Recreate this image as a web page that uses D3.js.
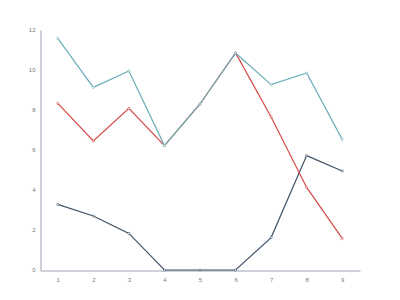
<!DOCTYPE html>
<html>
<head>
<meta charset="utf-8">
<script src="https://cdn.jsdelivr.net/npm/d3@7"></script>
<style>
  body { margin: 0; background: #fff; }
  svg { display: block; }
</style>
</head>
<body>
<svg id="chart" width="400" height="300"></svg>
<script>
const categories = [1, 2, 3, 4, 5, 6, 7, 8, 9];
const darkValues = [3.28, 2.7, 1.83, 0, 0, 0, 1.62, 5.72, 4.95];
const redValues = [8.33, 6.45, 8.08, 6.22, 8.3, 10.85, 7.65, 4.13, 1.58];
const tealValues = [11.58, 9.13, 9.95, 6.22, 8.3, 10.85, 9.27, 9.85, 6.53];
const yTicks = [0, 2, 4, 6, 8, 10, 12];

const seriesList = [
    { name: "dark", values: darkValues, colour: "#34495e", opacity: 0.95 },
    { name: "red", values: redValues, colour: "#d43d3a", opacity: 0.95 },
    { name: "teal", values: tealValues, colour: "#6aaeb9", opacity: 1 }
];

const svg = d3.select("#chart");
const margin = { top: 30, right: 40, bottom: 30, left: 40 };
const width = 400 - margin.left - margin.right;
const height = 300 - margin.top - margin.bottom;

const chartArea = svg.append("g")
    .attr("transform", `translate(${margin.left},${margin.top})`);

const xScale = d3.scalePoint().domain(categories).range([0, width]).padding(0.5);
const yScale = d3.scaleLinear().domain([0, 12]).range([height, 0]);

const axisColour = "#9ea3b3";

const yAxis = chartArea.append("g")
    .attr("transform", "translate(0.5,0)")
    .call(d3.axisLeft(yScale).tickValues(yTicks).tickSize(0).tickPadding(5));
const xAxis = chartArea.append("g")
    .attr("transform", `translate(0,${height + 0.5})`)
    .call(d3.axisBottom(xScale).tickSize(0).tickPadding(7));

[xAxis, yAxis].forEach(ax => {
    ax.select(".domain").attr("stroke", axisColour).attr("stroke-width", 1);
    ax.selectAll("text")
        .attr("fill", "#7a7a7a")
        .attr("font-family", "Helvetica, Arial, sans-serif")
        .attr("font-size", 6);
});

const line = d3.line()
    .x((d, i) => xScale(categories[i]))
    .y(d => yScale(d));

seriesList.forEach(s => {
    chartArea.append("path")
        .attr("class", "series-line")
        .attr("fill", "none")
        .attr("stroke", s.colour)
        .attr("stroke-width", 1.2)
        .attr("stroke-opacity", s.opacity)
        .attr("d", line(s.values));

    chartArea.selectAll(".dot-" + s.name)
        .data(s.values)
        .join("circle")
        .attr("class", "dot-" + s.name)
        .attr("cx", (d, i) => xScale(categories[i]))
        .attr("cy", d => yScale(d))
        .attr("r", 1.1)
        .attr("fill", "#fff")
        .attr("stroke", s.colour)
        .attr("stroke-width", 0.6);
});
</script>
</body>
</html>
